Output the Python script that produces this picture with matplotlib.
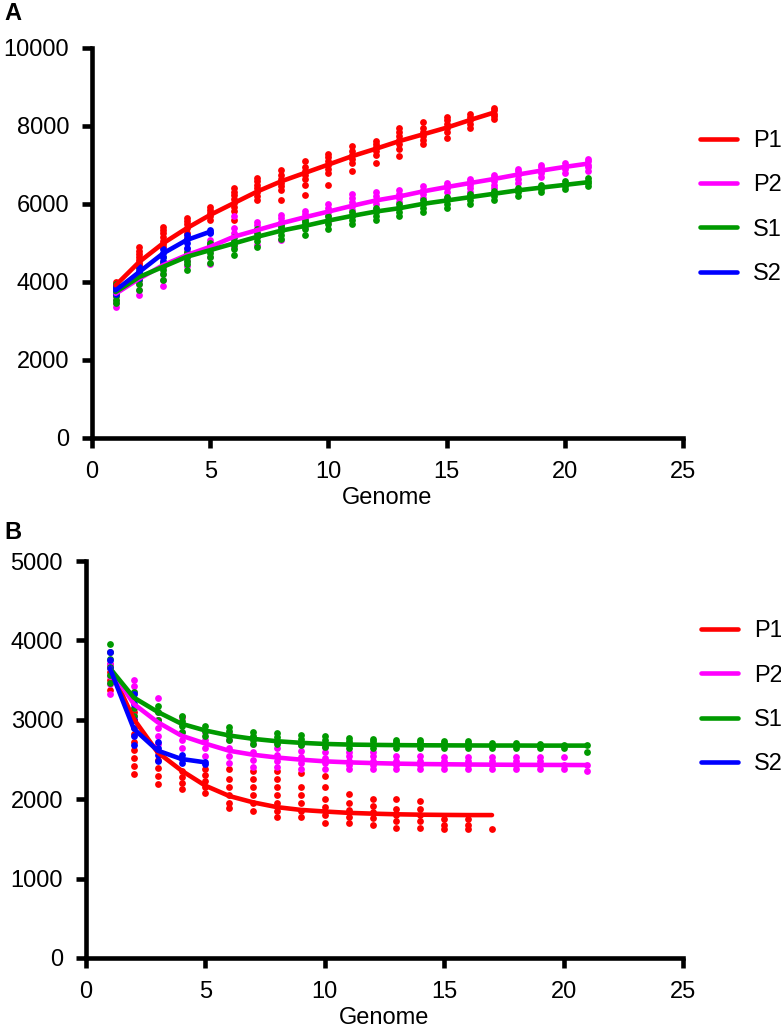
import matplotlib
matplotlib.use("Agg")
import matplotlib.pyplot as plt

plt.rcParams['font.family'] = ['Liberation Sans', 'DejaVu Sans']

labels = ["P1", "P2", "S1", "S2"]
colors = ["#FF0000", "#FF00FF", "#009A00", "#0000FF"]

# ---------------- Panel A (pan-genome) ----------------
a_p1_line = [3914, 4516, 4989, 5376, 5720, 6022, 6323, 6581, 6796, 7011, 7226, 7415, 7613, 7785, 7957, 8155, 8344]
a_p1_pts = [
    [3850, 3900, 3950, 4000],
    [4430, 4500, 4560, 4640, 4720, 4800, 4900],
    [4900, 4980, 5060, 5150, 5250, 5330, 5420],
    [5120, 5250, 5380, 5480, 5560, 5630],
    [5590, 5680, 5760, 5850, 5930],
    [5590, 5820, 5920, 6020, 6120, 6220, 6320, 6410],
    [6110, 6200, 6300, 6400, 6500, 6600, 6670],
    [6110, 6350, 6450, 6550, 6650, 6750, 6880],
    [6240, 6500, 6650, 6750, 6850, 6950, 7100],
    [6500, 6800, 6900, 7000, 7100, 7200, 7270],
    [6840, 7050, 7150, 7250, 7350, 7480],
    [7050, 7250, 7350, 7450, 7530, 7610],
    [7230, 7400, 7550, 7650, 7750, 7850, 7960],
    [7530, 7650, 7750, 7850, 7950, 8090],
    [7700, 7850, 7950, 8050, 8150, 8220],
    [7960, 8050, 8150, 8230, 8300],
    [8170, 8250, 8320, 8400, 8470],
]
a_p2_line = [3699, 4086, 4430, 4688, 4903, 5161, 5333, 5505, 5660, 5806, 5953, 6090, 6194, 6323, 6434, 6538, 6641, 6753, 6856, 6951, 7037]
a_p2_pts = [
    [3350, 3450, 3550, 3650, 3750, 3870],
    [3660, 3800, 3950, 4050, 4150, 4220],
    [3910, 4050, 4200, 4350, 4450, 4520],
    [4400, 4550, 4650, 4750, 4850],
    [4470, 4650, 4800, 4900, 5000, 5080],
    [4900, 5050, 5150, 5250, 5380, 5700],
    [4950, 5150, 5250, 5350, 5450, 5550],
    [5080, 5350, 5450, 5550, 5650, 5720],
    [5400, 5550, 5650, 5750, 5820],
    [5550, 5700, 5800, 5900, 6000],
    [5700, 5850, 5950, 6050, 6150, 6250],
    [5880, 6000, 6100, 6200, 6300],
    [5930, 6050, 6150, 6250, 6350],
    [6030, 6150, 6250, 6350, 6450],
    [6150, 6300, 6400, 6500, 6550],
    [6300, 6400, 6500, 6600, 6650],
    [6400, 6500, 6600, 6700, 6750],
    [6550, 6650, 6750, 6850, 6900],
    [6700, 6800, 6850, 6950, 7000],
    [6800, 6900, 6950, 7050],
    [6850, 6950, 7000, 7100, 7150],
]
a_s1_line = [3742, 4129, 4387, 4645, 4817, 4989, 5161, 5316, 5437, 5574, 5695, 5806, 5892, 6004, 6090, 6176, 6262, 6348, 6420, 6490, 6560]
a_s1_pts = [
    [3450, 3550, 3650, 3750, 3850, 3950],
    [3800, 3950, 4050, 4150, 4250, 4350],
    [4050, 4200, 4300, 4400, 4500, 4650],
    [4310, 4450, 4550, 4650, 4750, 4780],
    [4480, 4650, 4750, 4850, 4950, 5000],
    [4700, 4850, 4950, 5050, 5150],
    [4900, 5050, 5150, 5250, 5350],
    [5100, 5200, 5300, 5400, 5450],
    [5200, 5350, 5450, 5550, 5600],
    [5350, 5500, 5600, 5700],
    [5500, 5600, 5700, 5800],
    [5600, 5700, 5800, 5900],
    [5700, 5800, 5900, 6000],
    [5800, 5900, 6000, 6100],
    [5900, 6000, 6100, 6180],
    [6000, 6100, 6200, 6260],
    [6100, 6200, 6280, 6340],
    [6200, 6300, 6360, 6420],
    [6300, 6380, 6440, 6500],
    [6380, 6460, 6520, 6580],
    [6450, 6530, 6600, 6660],
]
a_s2_line = [3785, 4258, 4731, 5075, 5290]
a_s2_pts = [
    [3700, 3780, 3850, 3900],
    [4100, 4200, 4280, 4380],
    [4550, 4650, 4750, 4850],
    [4880, 5000, 5100, 5200],
    [5250, 5290, 5330],
]

# ---------------- Panel B (core genome) ----------------
b_p1_line = [3650, 3010, 2590, 2360, 2170, 2040, 1960, 1900, 1865, 1845, 1828, 1818, 1810, 1805, 1802, 1800, 1800]
b_p1_pts = [
    [3370, 3500, 3600, 3700],
    [2320, 2420, 2520, 2620, 2720, 2820, 3000, 3100],
    [2190, 2290, 2390, 2490, 2610, 3000],
    [2130, 2200, 2280, 2360, 3040],
    [2080, 2150, 2230, 2300, 2380],
    [1890, 1950, 2050, 2150, 2250, 2380],
    [1850, 1950, 2050, 2150, 2250, 2360],
    [1770, 1850, 1950, 2050, 2150, 2250, 2360],
    [1770, 1850, 1950, 2050, 2150, 2330],
    [1700, 1800, 1900, 2000, 2150, 2290],
    [1700, 1780, 1860, 1950, 2060],
    [1680, 1760, 1840, 1920, 2000],
    [1640, 1720, 1800, 1880, 2000],
    [1640, 1720, 1800, 1880, 1980],
    [1620, 1680, 1750],
    [1620, 1680, 1750],
    [1620],
]
b_p2_line = [3650, 3200, 2970, 2800, 2700, 2610, 2560, 2525, 2498, 2477, 2464, 2455, 2448, 2443, 2440, 2437, 2435, 2433, 2432, 2431, 2430]
b_p2_pts = [
    [3330, 3450, 3550, 3700, 3850],
    [3050, 3150, 3250, 3350, 3420, 3500],
    [2700, 2800, 2900, 3000, 3100, 3270],
    [2650, 2750, 2850, 2950, 3030],
    [2550, 2650, 2750, 2850],
    [2450, 2550, 2650, 2750, 2830],
    [2400, 2500, 2600, 2700, 2780],
    [2400, 2480, 2560, 2640, 2720],
    [2380, 2450, 2530, 2610, 2680],
    [2380, 2450, 2520, 2600, 2660],
    [2380, 2430, 2480, 2540, 2600],
    [2380, 2430, 2480, 2540, 2600],
    [2380, 2430, 2480, 2540],
    [2380, 2430, 2480, 2540],
    [2380, 2430, 2480, 2530],
    [2380, 2430, 2480, 2530],
    [2380, 2430, 2480, 2530],
    [2380, 2430, 2480, 2530],
    [2380, 2430, 2480, 2530],
    [2380, 2430, 2530],
    [2350, 2430],
]
b_s1_line = [3650, 3280, 3100, 2950, 2865, 2802, 2760, 2730, 2710, 2696, 2688, 2684, 2681, 2679, 2678, 2677, 2676, 2676, 2675, 2675, 2675]
b_s1_pts = [
    [3460, 3560, 3660, 3760, 3860, 3950],
    [3050, 3150, 3250, 3350],
    [3000, 3100, 3180],
    [2850, 2920, 2980, 3050],
    [2800, 2860, 2920],
    [2750, 2800, 2860, 2910],
    [2700, 2750, 2800, 2850],
    [2690, 2730, 2780, 2830],
    [2680, 2720, 2760, 2810],
    [2660, 2700, 2740, 2790],
    [2650, 2690, 2730, 2770],
    [2650, 2690, 2730, 2760],
    [2650, 2690, 2720, 2750],
    [2650, 2690, 2720, 2740],
    [2650, 2680, 2710, 2730],
    [2650, 2680, 2710, 2730],
    [2650, 2680, 2710],
    [2650, 2680, 2710],
    [2650, 2680, 2700],
    [2640, 2680],
    [2600, 2680],
]
b_s2_line = [3650, 2886, 2612, 2506, 2464]
b_s2_pts = [
    [3650, 3750, 3860],
    [2680, 2800, 2900, 3000, 3200, 3330],
    [2480, 2560, 2640, 2720],
    [2460, 2510, 2560],
    [2440, 2470],
]

x_ticks = [0, 5, 10, 15, 20, 25]
a_yticks = [0, 2000, 4000, 6000, 8000, 10000]
b_yticks = [0, 1000, 2000, 3000, 4000, 5000]

W, H = 781, 1031
fig = plt.figure(figsize=(W / 100, H / 100), dpi=100)

FS = 17
LW = 3.3


def panel(ax, lines, pts, yticks, ymax, leg_xy):
    for lab, col, ln, pt in zip(labels, colors, lines, pts):
        xs, ys = [], []
        for i, vals in enumerate(pt):
            for v in vals:
                xs.append(i + 1)
                ys.append(v)
        ax.scatter(xs, ys, s=24, color=col, linewidths=0, zorder=2)
        ax.plot(range(1, len(ln) + 1), ln, color=col, lw=LW, label=lab, zorder=3,
                solid_capstyle='round')
    ax.set_xlim(0, 25)
    ax.set_ylim(0, ymax)
    ax.set_xticks(x_ticks)
    ax.set_yticks(yticks)
    for s in ['top', 'right']:
        ax.spines[s].set_visible(False)
    for s in ['left', 'bottom']:
        ax.spines[s].set_linewidth(LW)
        ax.spines[s].set_capstyle('projecting')
    ax.tick_params(direction='out', length=7.5, width=LW, labelsize=FS, pad=9)
    ax.set_xlabel('Genome', fontsize=FS, labelpad=3)
    ax.patch.set_visible(False)
    ax.legend(loc='upper left', bbox_to_anchor=leg_xy, frameon=False,
              fontsize=FS, handlelength=1.55, handletextpad=0.7, labelspacing=0.95,
              borderpad=0, borderaxespad=0)


axA = fig.add_axes([92 / W, 1 - 438 / H, (683 - 92) / W, (438 - 48) / H])
panel(axA, [a_p1_line, a_p2_line, a_s1_line, a_s2_line],
      [a_p1_pts, a_p2_pts, a_s1_pts, a_s2_pts], a_yticks, 10000, (1.029, 0.79))

axB = fig.add_axes([86 / W, 1 - 958 / H, (683 - 86) / W, (958 - 561) / H])
panel(axB, [b_p1_line, b_p2_line, b_s1_line, b_s2_line],
      [b_p1_pts, b_p2_pts, b_s1_pts, b_s2_pts], b_yticks, 5000, (1.030, 0.851))

fig.text(4 / W, 1 - 2 / H, 'A', fontsize=17, fontweight='bold', va='top', ha='left')
fig.text(4 / W, 1 - 521 / H, 'B', fontsize=17, fontweight='bold', va='top', ha='left')

fig.savefig('out.png', dpi=100)
